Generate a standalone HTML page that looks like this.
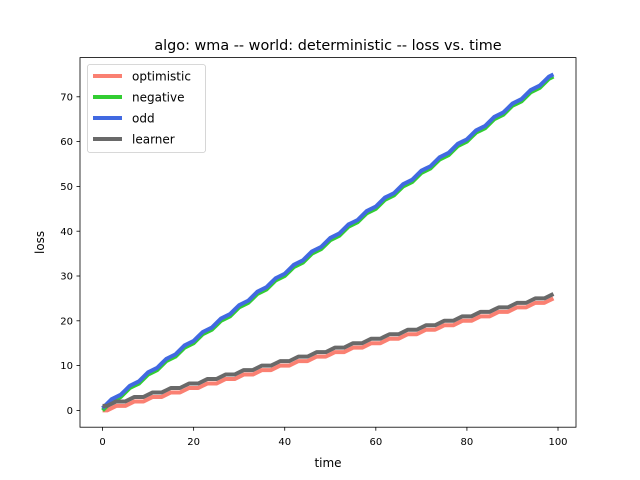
<!DOCTYPE html>
<html><head><meta charset="utf-8"><style>body{margin:0;background:#fff}svg{display:block;font-family:"DejaVu Sans","Liberation Sans",sans-serif}</style></head>
<body>
<svg id="chart" width="640" height="480">
<rect width="640" height="480" fill="#fff"/>
<text x="328" y="50" text-anchor="middle" font-size="14.4">algo: wma -- world: deterministic -- loss vs. time</text>
<g id="plot"></g>
<rect x="80" y="57.6" width="496" height="369.6" fill="none" stroke="#000" stroke-width="0.8"/>
<g id="xt"></g><g id="yt"></g>
<text x="328" y="467" text-anchor="middle" font-size="12">time</text>
<text transform="translate(44,242.4) rotate(-90)" text-anchor="middle" font-size="12">loss</text>
<g id="legend"></g>
</svg>
<script>
const seriesNames=["optimistic","negative","odd","learner"];
const seriesColors=["#fa8072","#32cd32","#4169e1","#696969"];
const optimistic=[0,0,0.5,1,1,1,1.5,2,2,2,2.5,3,3,3,3.5,4,4,4,4.5,5,5,5,5.5,6,6,6,6.5,7,7,7,7.5,8,8,8,8.5,9,9,9,9.5,10,10,10,10.5,11,11,11,11.5,12,12,12,12.5,13,13,13,13.5,14,14,14,14.5,15,15,15,15.5,16,16,16,16.5,17,17,17,17.5,18,18,18,18.5,19,19,19,19.5,20,20,20,20.5,21,21,21,21.5,22,22,22,22.5,23,23,23,23.5,24,24,24,24.5,25];
const negative=[0,1,2,2.5,3,4,5,5.5,6,7,8,8.5,9,10,11,11.5,12,13,14,14.5,15,16,17,17.5,18,19,20,20.5,21,22,23,23.5,24,25,26,26.5,27,28,29,29.5,30,31,32,32.5,33,34,35,35.5,36,37,38,38.5,39,40,41,41.5,42,43,44,44.5,45,46,47,47.5,48,49,50,50.5,51,52,53,53.5,54,55,56,56.5,57,58,59,59.5,60,61,62,62.5,63,64,65,65.5,66,67,68,68.5,69,70,71,71.5,72,73,74,74.5];
const odd=[0.5,1.5,2.5,3,3.5,4.5,5.5,6,6.5,7.5,8.5,9,9.5,10.5,11.5,12,12.5,13.5,14.5,15,15.5,16.5,17.5,18,18.5,19.5,20.5,21,21.5,22.5,23.5,24,24.5,25.5,26.5,27,27.5,28.5,29.5,30,30.5,31.5,32.5,33,33.5,34.5,35.5,36,36.5,37.5,38.5,39,39.5,40.5,41.5,42,42.5,43.5,44.5,45,45.5,46.5,47.5,48,48.5,49.5,50.5,51,51.5,52.5,53.5,54,54.5,55.5,56.5,57,57.5,58.5,59.5,60,60.5,61.5,62.5,63,63.5,64.5,65.5,66,66.5,67.5,68.5,69,69.5,70.5,71.5,72,72.5,73.5,74.5,75];
const learner=[1,1,1.5,2,2,2,2.5,3,3,3,3.5,4,4,4,4.5,5,5,5,5.5,6,6,6,6.5,7,7,7,7.5,8,8,8,8.5,9,9,9,9.5,10,10,10,10.5,11,11,11,11.5,12,12,12,12.5,13,13,13,13.5,14,14,14,14.5,15,15,15,15.5,16,16,16,16.5,17,17,17,17.5,18,18,18,18.5,19,19,19,19.5,20,20,20,20.5,21,21,21,21.5,22,22,22,22.5,23,23,23,23.5,24,24,24,24.5,25,25,25,25.5,26];
const xTicks=[0,20,40,60,80,100];
const yTicks=[0,10,20,30,40,50,60,70];
const NS="http://www.w3.org/2000/svg";
const allS=[optimistic,negative,odd,learner];
const n=learner.length;
const yMax=Math.max(...allS.flat()),yMin=Math.min(...allS.flat());
const xm=(n-1)*0.05,ym=(yMax-yMin)*0.05;
const x0=-xm,x1=n-1+xm,y0=yMin-ym,y1=yMax+ym;
const X=v=>80+(v-x0)/(x1-x0)*496;
const Y=v=>427.2-(v-y0)/(y1-y0)*369.6;
function mk(t,a,p){const e=document.createElementNS(NS,t);for(const k in a)e.setAttribute(k,a[k]);p.appendChild(e);return e;}
const plot=document.getElementById('plot');
allS.forEach((s,i)=>{
 const d=s.map((v,t)=>(t?'L':'M')+X(t).toFixed(2)+','+Y(v).toFixed(2)).join('');
 const p=mk('path',{d:d,fill:'none',stroke:seriesColors[i],'stroke-width':4,'stroke-linejoin':'round','stroke-linecap':'butt'},plot);
 
 
});
const xt=document.getElementById('xt');
xTicks.forEach(v=>{
 mk('line',{x1:X(v),x2:X(v),y1:427.2,y2:430.7,stroke:'#000','stroke-width':0.8},xt);
 const t=mk('text',{x:X(v),y:445,'text-anchor':'middle','font-size':10},xt);t.textContent=v;
 
 
});
const yt=document.getElementById('yt');
yTicks.forEach(v=>{
 mk('line',{x1:76.5,x2:80,y1:Y(v),y2:Y(v),stroke:'#000','stroke-width':0.8},yt);
 const t=mk('text',{x:73,y:Y(v)+3.6,'text-anchor':'end','font-size':10},yt);t.textContent=v;
 
 
});
const lg=document.getElementById('legend');
mk('rect',{x:87.5,y:64.5,width:118,height:88,rx:2.5,fill:'#fff','fill-opacity':0.8,stroke:'#ccc','stroke-width':0.8},lg);
seriesNames.forEach((nm,i)=>{
 const yy=76+i*21;
 mk('line',{x1:93,x2:122,y1:yy,y2:yy,stroke:seriesColors[i],'stroke-width':4},lg);
 const t=mk('text',{x:132,y:yy+4.5,'font-size':12},lg);t.textContent=nm;
 
 
});
</script>
</body></html>
